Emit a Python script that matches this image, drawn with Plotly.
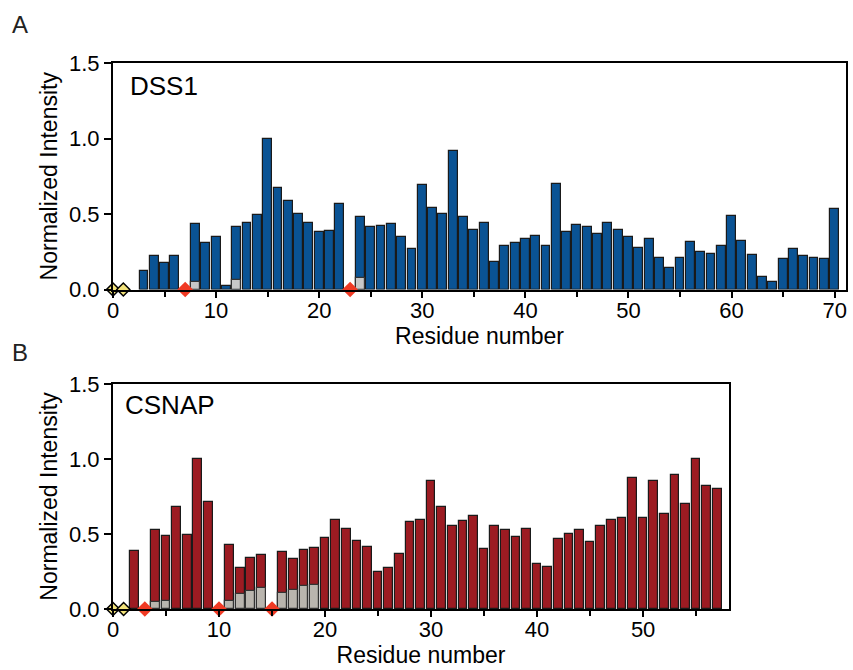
import plotly.graph_objects as go

# ---------------- Data ----------------
# Panel A: DSS1 (residue -> normalized intensity)
dss1_res = [3, 4, 5, 6, 8, 9, 10, 11, 12, 13, 14, 15, 16, 17, 18, 19, 20, 21, 22,
            24, 25, 26, 27, 28, 29, 30, 31, 32, 33, 34, 35, 36, 37, 38, 39, 40, 41,
            42, 43, 44, 45, 46, 47, 48, 49, 50, 51, 52, 53, 54, 55, 56, 57, 58, 59,
            60, 61, 62, 63, 64, 65, 66, 67, 68, 69, 70]
dss1_val = [0.124, 0.22, 0.175, 0.22, 0.437, 0.306, 0.346, 0.024, 0.412, 0.439, 0.492,
            1.0, 0.674, 0.585, 0.499, 0.439, 0.379, 0.388, 0.568,
            0.481, 0.417, 0.421, 0.435, 0.348, 0.266, 0.692, 0.537, 0.499, 0.918,
            0.477, 0.395, 0.439, 0.182, 0.286, 0.308, 0.335, 0.355, 0.29, 0.698,
            0.381, 0.428, 0.412, 0.368, 0.439, 0.395, 0.348, 0.275, 0.333, 0.208,
            0.144, 0.208, 0.313, 0.246, 0.233, 0.286, 0.488, 0.319, 0.226, 0.082,
            0.049, 0.202, 0.266, 0.22, 0.206, 0.202, 0.53]
dss1_gray_res = [8, 12, 24]
dss1_gray_val = [0.053, 0.06, 0.075]
dss1_yellow = [0, 1]
dss1_red = [7, 23]

# Panel B: CSNAP
csnap_res = [2, 4, 5, 6, 7, 8, 9, 11, 12, 13, 14, 16, 17, 18, 19, 20, 21, 22, 23,
             24, 25, 26, 27, 28, 29, 30, 31, 32, 33, 34, 35, 36, 37, 38, 39, 40, 41,
             42, 43, 44, 45, 46, 47, 48, 49, 50, 51, 52, 53, 54, 55, 56, 57]
csnap_val = [0.386, 0.529, 0.487, 0.679, 0.496, 1.0, 0.712, 0.429, 0.272, 0.337,
             0.362, 0.377, 0.335, 0.391, 0.404, 0.473, 0.594, 0.531, 0.453, 0.411,
             0.248, 0.275, 0.366, 0.58, 0.592, 0.855, 0.681, 0.554, 0.587, 0.621,
             0.397, 0.554, 0.529, 0.48, 0.536, 0.301, 0.281, 0.469, 0.502, 0.529,
             0.444, 0.551, 0.592, 0.605, 0.871, 0.607, 0.855, 0.636, 0.891, 0.701,
             1.0, 0.819, 0.799]
csnap_gray_res = [4, 5, 11, 12, 13, 14, 16, 17, 18, 19]
csnap_gray_val = [0.045, 0.051, 0.054, 0.098, 0.123, 0.143, 0.107, 0.129, 0.152, 0.158]
csnap_yellow = [0, 1]
csnap_red = [3, 10, 15]

y_ticks = [0, 0.5, 1.0, 1.5]
y_ticklabels = ["0.0", "0.5", "1.0", "1.5"]

# ---------------- Styling ----------------
FONT = "Liberation Sans, Arial, Helvetica, sans-serif"
BLUE = "#0a5394"
RED = "#9c1b22"
GRAY_A = "#c8c8c8"
GRAY_B = "#b9b5ae"
YELLOW = "#f2e27a"
DIAM_RED = "#f03a24"
W, H = 853, 670

fig = go.Figure()

def add_panel(xa, ya, res, val, gres, gval, col, gcol, yel, red, width):
    fig.add_trace(go.Bar(x=res, y=val, width=width, marker=dict(color=col, line=dict(color="#1a1a1a", width=1.2)),
                         xaxis=xa, yaxis=ya, showlegend=False))
    fig.add_trace(go.Bar(x=gres, y=gval, width=width, marker=dict(color=gcol, line=dict(color="#333333", width=1.2)),
                         xaxis=xa, yaxis=ya, showlegend=False))
    fig.add_trace(go.Scatter(x=yel, y=[0] * len(yel), mode="markers", cliponaxis=False,
                             marker=dict(symbol="diamond", size=10, color=YELLOW, line=dict(color="black", width=1.5)),
                             xaxis=xa, yaxis=ya, showlegend=False))
    fig.add_trace(go.Scatter(x=red, y=[0] * len(red), mode="markers", cliponaxis=False,
                             marker=dict(symbol="diamond", size=12, color=DIAM_RED, line=dict(width=0)),
                             xaxis=xa, yaxis=ya, showlegend=False))

add_panel("x", "y", dss1_res, dss1_val, dss1_gray_res, dss1_gray_val, BLUE, GRAY_A, dss1_yellow, dss1_red, 0.86)
add_panel("x2", "y2", csnap_res, csnap_val, csnap_gray_res, csnap_gray_val, RED, GRAY_B, csnap_yellow, csnap_red, 0.82)

def xaxis_cfg(domain, rng):
    return dict(domain=domain, range=rng, showline=True, linecolor="black", linewidth=2, mirror=True,
                ticks="outside", ticklen=6, tickwidth=1.5, tickcolor="black", dtick=10, tick0=0,
                minor=dict(dtick=5, tick0=0, ticks="outside", ticklen=5, tickwidth=1.5, tickcolor="black"),
                showgrid=False, zeroline=False, tickfont=dict(size=22, color="black", family=FONT),
                ticklabelstandoff=-6,
                title=dict(text="Residue number", font=dict(size=23, color="black", family=FONT), standoff=2),
                automargin=False, fixedrange=True)

def yaxis_cfg(domain, anchor):
    return dict(domain=domain, range=[0, 1.5], anchor=anchor, showline=True, linecolor="black", linewidth=2,
                mirror=True, ticks="outside", ticklen=7, tickwidth=1.5, tickcolor="black",
                tickvals=y_ticks, ticktext=y_ticklabels, showgrid=False, zeroline=False,
                tickfont=dict(size=22, color="black", family=FONT),
                title=dict(text="Normalized Intensity", font=dict(size=23, color="black", family=FONT), standoff=5),
                automargin=False, fixedrange=True)

fig.update_layout(
    width=W, height=H,
    margin=dict(l=0, r=0, t=0, b=0, autoexpand=False),
    paper_bgcolor="white", plot_bgcolor="white",
    barmode="overlay", bargap=0,
    font=dict(family=FONT, color="black"),
    xaxis=dict(**xaxis_cfg([113 / W, 846 / W], [0, 71.1]), anchor="y"),
    yaxis=yaxis_cfg([1 - 289.5 / H, 1 - 63 / H], "x"),
    xaxis2=dict(**xaxis_cfg([113 / W, 729 / W], [0, 58.1]), anchor="y2"),
    yaxis2=yaxis_cfg([1 - 609 / H, 1 - 384 / H], "x2"),
    annotations=[
        dict(text="A", x=10 / W, y=1 - 25 / H, xref="paper", yref="paper", xanchor="left", yanchor="middle",
             showarrow=False, font=dict(size=24, color="#222", family=FONT)),
        dict(text="B", x=10 / W, y=1 - 352 / H, xref="paper", yref="paper", xanchor="left", yanchor="middle",
             showarrow=False, font=dict(size=24, color="#222", family=FONT)),
        dict(text="DSS1", x=128 / W, y=1 - 86 / H, xref="paper", yref="paper", xanchor="left", yanchor="middle",
             showarrow=False, font=dict(size=26, color="black", family=FONT)),
        dict(text="CSNAP", x=123 / W, y=1 - 405 / H, xref="paper", yref="paper", xanchor="left", yanchor="middle",
             showarrow=False, font=dict(size=26, color="black", family=FONT)),
    ],
)

fig.write_html("out.html", config={"displayModeBar": False},
               post_script="document.body.style.margin='0';document.body.style.padding='0';")
